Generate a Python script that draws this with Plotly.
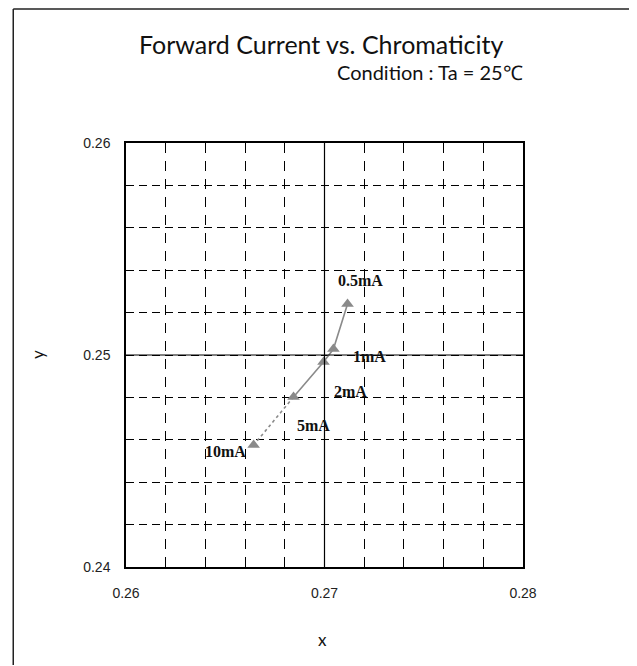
import plotly.graph_objects as go

# Data
current_labels = ["0.5mA", "1mA", "2mA", "5mA", "10mA"]
cie_x = [0.27116, 0.27045, 0.26995, 0.26844, 0.26643]
cie_y = [0.25241, 0.25028, 0.24967, 0.24802, 0.24575]

x_ticks = [0.26, 0.27, 0.28]
y_ticks = [0.24, 0.25, 0.26]

# label offsets (px) relative to each point: style only
label_shift = [(13, 23), (36, -7), (27, -29), (20, -29), (-28, -6)]

gray = "#8a8a8a"
fig = go.Figure()

# solid segment 0.5mA -> 5mA
fig.add_trace(go.Scatter(x=cie_x[:4], y=cie_y[:4], mode="lines",
                         line=dict(color=gray, width=1.6), showlegend=False,
                         hoverinfo="skip"))
# dotted segment 5mA -> 10mA
fig.add_trace(go.Scatter(x=cie_x[3:], y=cie_y[3:], mode="lines",
                         line=dict(color=gray, width=1.6, dash="dot"),
                         showlegend=False, hoverinfo="skip"))
# markers
fig.add_trace(go.Scatter(x=cie_x, y=cie_y, mode="markers",
                         marker=dict(symbol="triangle-up", size=11, color=gray),
                         text=current_labels, showlegend=False))

for lab, xv, yv, (dx, dy) in zip(current_labels, cie_x, cie_y, label_shift):
    fig.add_annotation(x=xv, y=yv, xref="x", yref="y", text="<b>" + lab + "</b>",
                       showarrow=False, xshift=dx, yshift=dy,
                       font=dict(family="Liberation Serif", size=16, color="#111"))

# center solid lines
fig.add_shape(type="line", xref="x", yref="paper", x0=x_ticks[1], x1=x_ticks[1], y0=0, y1=1,
              line=dict(color="black", width=1.2))
fig.add_shape(type="line", xref="paper", yref="y", x0=0, x1=1, y0=y_ticks[1], y1=y_ticks[1],
              line=dict(color="black", width=1.2))

# outer frame: only left and top edges fall inside the picture
fig.add_shape(type="line", xref="paper", yref="paper", x0=-0.284, x1=-0.284, y0=-0.30, y1=1.316,
              line=dict(color="#222", width=1.5), layer="below")
fig.add_shape(type="line", xref="paper", yref="paper", x0=-0.284, x1=1.45, y0=1.316, y1=1.316,
              line=dict(color="#222", width=1.5), layer="below")

fig.add_annotation(x=0.491, y=(568 - 45) / 424, xref="paper", yref="paper",
                   xanchor="center", yanchor="middle",
                   text="Forward Current vs. Chromaticity", showarrow=False,
                   font=dict(family="Lato", size=25, color="#111"))
fig.add_annotation(x=1.005, y=(568 - 73) / 424, xref="paper", yref="paper",
                   xanchor="right", yanchor="middle",
                   text="Condition : Ta = 25℃", showarrow=False,
                   font=dict(family="Lato", size=20, color="#111"))
fig.add_annotation(x=0.496, y=(568 - 640) / 424, xref="paper", yref="paper",
                   xanchor="center", yanchor="middle", text="x", showarrow=False,
                   font=dict(family="Lato", size=17, color="#111"))
fig.add_annotation(x=-0.224, y=0.5, xref="paper", yref="paper", text="y", showarrow=False,
                   xanchor="center", yanchor="middle",
                   textangle=-90, font=dict(family="Lato", size=17, color="#111"))

fig.update_layout(
    width=629, height=657,
    margin=dict(l=118, r=114, t=135, b=98),
    paper_bgcolor="white", plot_bgcolor="white",
    xaxis=dict(range=[0.26, 0.28], tickvals=x_ticks, ticktext=["0.26", "0.27", "0.28"],
               showgrid=False, zeroline=False, showline=True, linecolor="black",
               linewidth=1.5, mirror=True, ticks="", ticklabelstandoff=12,
               tickfont=dict(family="Liberation Sans", size=14, color="#222"),
               minor=dict(dtick=0.002, tick0=0.26, showgrid=True, gridcolor="black",
                          gridwidth=1, griddash="10px,8px")),
    yaxis=dict(range=[0.24, 0.26], tickvals=y_ticks, ticktext=["0.24", "0.25", "0.26"],
               showgrid=False, zeroline=False, showline=True, linecolor="black",
               linewidth=1.5, mirror=True, ticks="", ticklabelstandoff=11,
               tickfont=dict(family="Liberation Sans", size=14, color="#222"),
               minor=dict(dtick=0.002, tick0=0.24, showgrid=True, gridcolor="black",
                          gridwidth=1, griddash="8px,5px")),
)

fig.write_html("out.html")
